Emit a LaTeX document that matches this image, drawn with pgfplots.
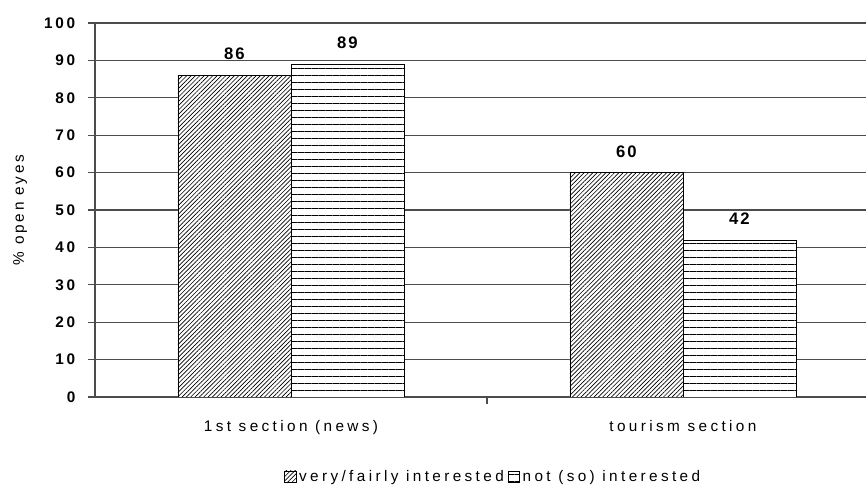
\documentclass[border=0pt]{standalone}
\usepackage{fontspec}
\setmainfont{Liberation Sans}
\usepackage{pgfplots}
\pgfplotsset{compat=1.18}
\usetikzlibrary{patterns.meta}
\newfontfamily\lspa[LetterSpace=22]{Liberation Sans}
\newfontfamily\lspb[LetterSpace=18]{Liberation Sans}
\newfontfamily\lspc[LetterSpace=12]{Liberation Sans}
\begin{document}
\begin{tikzpicture}
\path[use as bounding box] (0,0) rectangle (649.5pt,366pt);
\begin{axis}[
  at={(71.25pt,68.25pt)}, anchor=south west,
  scale only axis, width=578.25pt, height=280.5pt,
  ybar=0pt, bar width=84.75pt,
  xmin=-0.5, xmax=1.467, ymin=0, ymax=100,
  axis x line*=bottom, axis y line*=left,
  axis line style={draw=black!70, line width=0.8pt},
  xtick={0,1}, xticklabels={1st section (news), tourism section},
  x tick style={draw=none},
  minor xtick={0.5}, minor x tick style={draw=black!70, line width=0.8pt},
  minor tick length=5.25pt,
  ytick={0,10,...,100},
  y tick style={draw=black!70, line width=0.8pt},
  major tick length=5.25pt, tick align=outside,
  ymajorgrids, grid style={draw=black!70, line width=0.8pt},
  /pgf/number format/assume math mode=true,
  yticklabel style={font=\lspb\fontsize{11.5}{13}\selectfont\bfseries, xshift=-6pt},
  xticklabel style={font=\lspa\fontsize{11.5}{13}\selectfont, yshift=-8.5pt},
  ylabel={\% open eyes},
  ylabel style={at={(axis description cs:-0.097,0.5)}, anchor=center, font=\lspb\fontsize{11.5}{13}\selectfont},
  nodes near coords,
  every node near coord/.append style={font=\lspc\fontsize{12.5}{14}\selectfont\bfseries, yshift=7.8pt},
  legend columns=2,
  legend style={at={(0.517,-0.213)}, anchor=center, draw=none, fill=none,
    font=\lspa\fontsize{11.5}{13}\selectfont,
    /tikz/every even column/.append style={column sep=1pt}},
  legend image code/.code={\draw[#1] (0pt,-4.25pt) rectangle (8.5pt,4.25pt);},
]
\addplot[draw=black, line width=0.6pt, fill=white,
  postaction={pattern={Lines[angle=45,distance=2.3pt,line width=0.5pt]}}]
  coordinates {(0,86) (1,60)};
\addplot[draw=black, line width=0.6pt, fill=white,
  postaction={pattern={Lines[angle=0,distance=5.25pt,line width=0.5pt]}}]
  coordinates {(0,89) (1,42)};
\legend{very/fairly interested, not (so) interested}
\end{axis}
\end{tikzpicture}
\end{document}
